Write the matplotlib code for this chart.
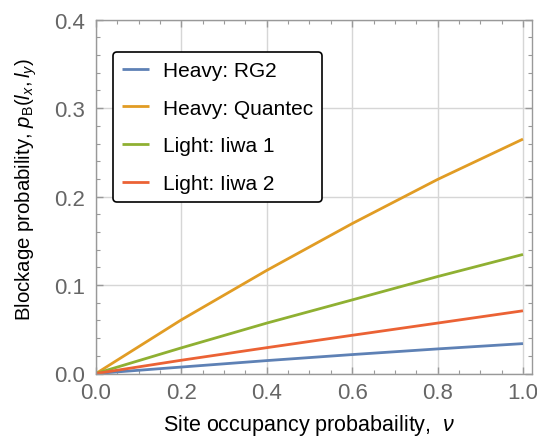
import matplotlib
matplotlib.use('Agg')
import matplotlib.pyplot as plt
from matplotlib.ticker import MultipleLocator

plt.rcParams['font.family'] = ['Liberation Sans', 'DejaVu Sans']
plt.rcParams['mathtext.fontset'] = 'custom'
plt.rcParams['mathtext.it'] = 'Liberation Sans:italic'
plt.rcParams['mathtext.rm'] = 'Liberation Sans'

# site occupancy probability
nu = [0.0, 0.2, 0.4, 0.6, 0.8, 1.0]
# blockage probability
heavy_rg2 = [0.0, 0.0073, 0.0146, 0.0214, 0.0278, 0.0338]
heavy_quantec = [0.0, 0.0607, 0.1166, 0.1695, 0.2194, 0.2650]
light_iiwa1 = [0.0, 0.0290, 0.0570, 0.0832, 0.1096, 0.1346]
light_iiwa2 = [0.0, 0.0150, 0.0292, 0.0432, 0.0570, 0.0709]

labels = ['Heavy: RG2', 'Heavy: Quantec', 'Light: Iiwa 1', 'Light: Iiwa 2']
colors = ['#5E81B5', '#E19C24', '#8FB032', '#EB6235']

fig = plt.figure(figsize=(5.37, 4.39), dpi=100)
ax = fig.add_axes([96/537, 1 - 374.5/439, (531.5 - 96)/537, (374.5 - 20.7)/439])

for ys, lab, c in zip([heavy_rg2, heavy_quantec, light_iiwa1, light_iiwa2], labels, colors):
    ax.plot(nu, ys, color=c, lw=2, label=lab, solid_capstyle='butt')

ax.set_xlim(0, 1.02)
ax.set_ylim(0, 0.4)
ax.xaxis.set_major_locator(MultipleLocator(0.2))
ax.xaxis.set_minor_locator(MultipleLocator(0.05))
ax.yaxis.set_major_locator(MultipleLocator(0.1))
ax.yaxis.set_minor_locator(MultipleLocator(0.02))
ax.xaxis.set_major_formatter(plt.FuncFormatter(lambda v, p: '%.1f' % v))
ax.yaxis.set_major_formatter(plt.FuncFormatter(lambda v, p: '%.1f' % v))

ax.grid(True, which='major', color='#d6d6d6', lw=1)
ax.set_axisbelow(True)
for s in ax.spines.values():
    s.set_color('#999999')
    s.set_linewidth(1)
ax.tick_params(which='both', direction='in', top=True, right=True, color='#999999',
               labelcolor='#666666', labelsize=16)
ax.tick_params(which='major', length=5, width=1)
ax.tick_params(which='minor', length=3, width=0.8)
ax.tick_params(axis='x', which='major', pad=6)
ax.tick_params(axis='y', which='major', pad=8)

ax.set_xlabel(r'Site occupancy probabaility,  $\nu$', fontsize=15.5)
ax.set_ylabel(r'Blockage probability, $p_{\mathrm{B}}(l_x,l_y)$', fontsize=14.7)
ax.xaxis.set_label_coords(0.489, -0.109)
ax.yaxis.set_label_coords(-0.131, 0.523)

leg = ax.legend(loc='upper left', bbox_to_anchor=(17/435.5, 1 - 32.3/353.8), fontsize=15,
                frameon=True, fancybox=True, edgecolor='black', framealpha=1,
                borderaxespad=0, handlelength=1.3, handletextpad=0.67,
                labelspacing=0.9, borderpad=0.43)
leg.get_frame().set_linewidth(1.2)

fig.savefig('out.png', dpi=100)
